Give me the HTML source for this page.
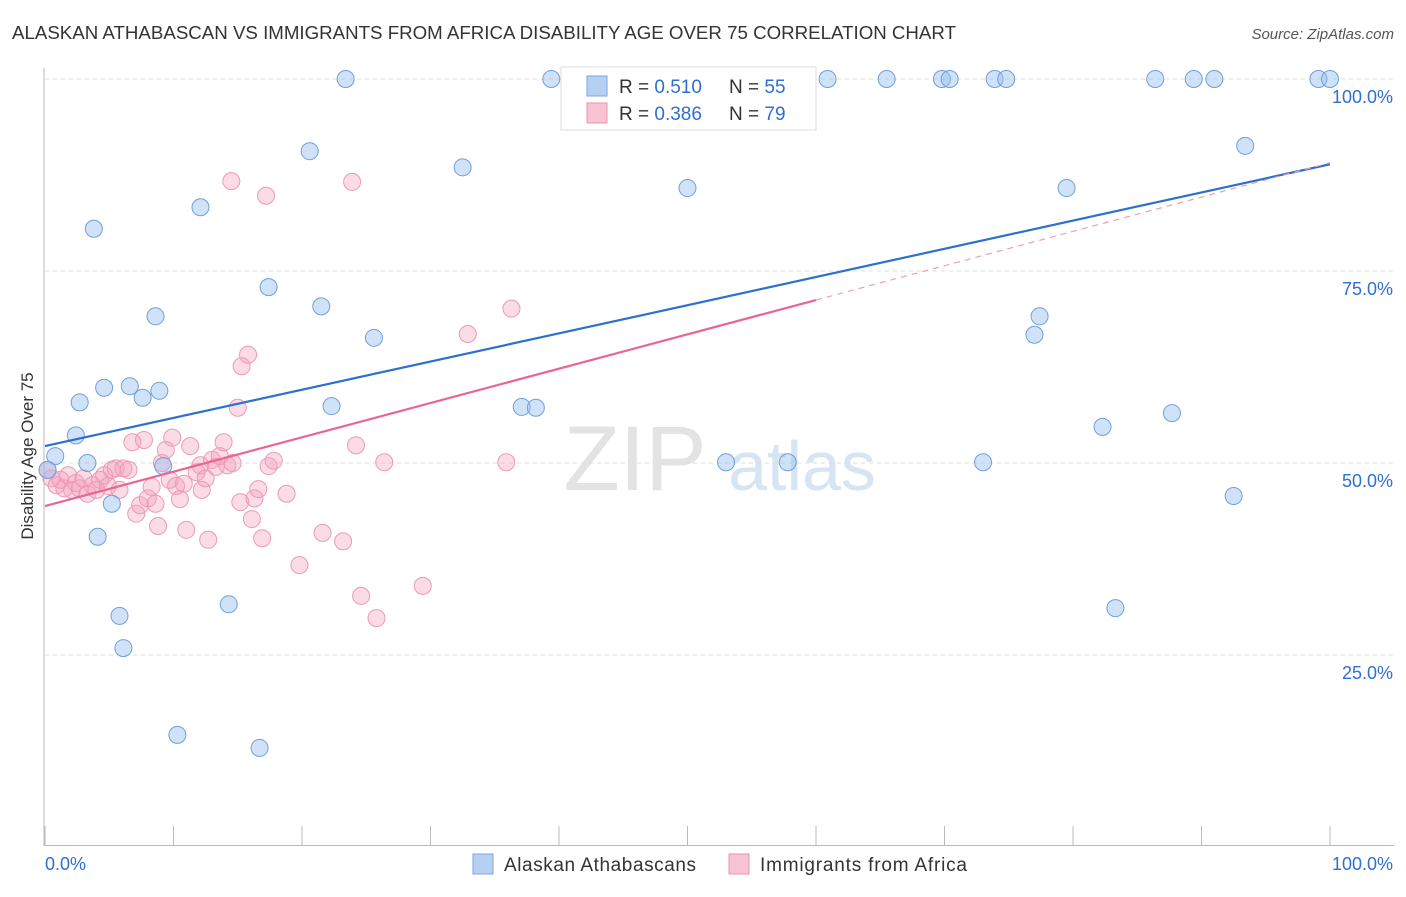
<!DOCTYPE html>
<html><head><meta charset="utf-8">
<style>
body{margin:0;background:#fff;font-family:"Liberation Sans",sans-serif;}
svg text{font-family:"Liberation Sans",sans-serif;}
</style></head>
<body>
<svg id="chart" width="1406" height="892" viewBox="0 0 1406 892">
<text x="12" y="39" font-size="18" fill="#333" textLength="944" lengthAdjust="spacingAndGlyphs">ALASKAN ATHABASCAN VS IMMIGRANTS FROM AFRICA DISABILITY AGE OVER 75 CORRELATION CHART</text>
<text x="1394" y="39" font-size="15" fill="#555" font-style="italic" text-anchor="end">Source: ZipAtlas.com</text>
<text transform="translate(33,456) rotate(-90)" font-size="17" fill="#333" text-anchor="middle">Disability Age Over 75</text>
<g>
<text x="635" y="490" font-size="92" fill="#e3e3e3" font-family="Liberation Serif,serif" text-anchor="middle">ZIP</text>
<text x="802" y="490" font-size="70" fill="#d6e4f4" text-anchor="middle">atlas</text>
</g>
<g id="grid"></g>
<g id="axes"></g>
<g id="marks"></g>
<g>
<rect x="561" y="67" width="255" height="63" fill="#fff" stroke="#ddd"/>
<rect x="587" y="76" width="20" height="20" fill="#b5d0f2" stroke="#7aa6de"/>
<text x="619" y="93" font-size="19" fill="#333">R = <tspan fill="#2e6fd0">0.510</tspan></text>
<text x="729" y="93" font-size="19" fill="#333">N = <tspan fill="#2e6fd0">55</tspan></text>
<rect x="587" y="103" width="20" height="20" fill="#f8c4d4" stroke="#e893b0"/>
<text x="619" y="120" font-size="19" fill="#333">R = <tspan fill="#2e6fd0">0.386</tspan></text>
<text x="729" y="120" font-size="19" fill="#333">N = <tspan fill="#2e6fd0">79</tspan></text>
</g>
<g>
<rect x="473" y="854" width="20" height="20" fill="#b5d0f2" stroke="#7aa6de"/>
<text x="504" y="871" font-size="19" fill="#333" textLength="192">Alaskan Athabascans</text>
<rect x="729" y="854" width="20" height="20" fill="#f8c4d4" stroke="#e893b0"/>
<text x="760" y="871" font-size="19" fill="#333" textLength="207">Immigrants from Africa</text>
</g>
</svg>
<script>
const blueX=[23.4,39.4,60.9,65.5,69.8,70.4,73.9,74.8,86.4,89.4,91.0,99.1,100,93.4,20.6,32.5,12.1,3.8,50.0,79.5,17.4,21.5,8.6,25.6,77.4,77.0,4.6,6.6,8.9,2.7,7.6,22.3,37.1,38.2,2.4,82.3,87.7,0.8,3.3,9.2,53.0,57.8,73.0,0.2,5.2,92.5,4.1,5.8,14.3,83.3,6.1,10.3,16.7];
const blueY=[100,100,100,100,100,100,100,100,100,100,100,100,100,91.3,90.6,88.5,83.3,80.5,85.8,85.8,72.9,70.4,69.1,66.3,69.1,66.7,59.8,60.0,59.4,57.9,58.5,57.4,57.3,57.2,53.6,54.7,56.5,50.9,50.0,49.6,50.1,50.1,50.1,49.1,44.7,45.7,40.4,30.1,31.6,31.1,25.9,14.6,12.9];
const pinkX=[0.2,0.5,0.9,1.2,1.5,1.8,2.1,2.4,2.7,3.0,3.3,3.7,4.0,4.3,4.6,4.9,5.2,5.5,5.8,6.1,6.5,6.8,7.1,7.4,7.7,8.0,8.3,8.6,8.8,9.1,9.4,9.7,9.9,10.2,10.5,10.8,11.0,11.3,11.8,12.1,12.2,12.5,12.7,13.0,13.3,13.6,13.9,14.2,14.5,14.6,15.0,15.2,15.3,15.8,16.1,16.3,16.6,16.9,17.2,17.4,17.8,18.8,19.8,21.6,23.2,23.9,24.2,24.6,25.8,26.4,29.4,32.9,35.9,36.3,54.6];
const pinkY=[49.1,48.0,47.1,47.8,46.7,48.4,46.5,47.4,46.7,48.0,46.0,47.1,46.5,47.8,48.4,47.0,49.1,49.3,46.5,49.3,49.1,52.7,43.4,44.5,53.0,45.4,46.9,44.7,41.8,50.0,51.7,47.8,53.3,47.0,45.3,47.3,41.3,52.2,48.8,49.7,46.5,48.0,40.0,50.4,49.5,50.9,52.7,49.7,86.7,50.0,57.2,44.9,62.6,64.1,42.7,45.4,46.6,40.2,84.8,49.6,50.3,46.0,36.7,40.9,39.8,86.6,52.3,32.7,29.8,50.1,34.0,66.8,50.1,70.1,100];
const blueFit=[52.2,0.367];
const pinkFit=[44.4,0.447];
const yTicks=[25,50,75,100];
const yTickLabels=["25.0%","50.0%","75.0%","100.0%"];
const xTicks=[0,10,20,30,40,50,60,70,80,90,100];

const NS="http://www.w3.org/2000/svg";
const sx=v=>45+v*12.85;
const sy=v=>847-v*7.68;
function mk(tag,attrs,parent){const e=document.createElementNS(NS,tag);for(const k in attrs)e.setAttribute(k,attrs[k]);parent.appendChild(e);return e;}
const grid=document.getElementById('grid'),axes=document.getElementById('axes'),marks=document.getElementById('marks');
yTicks.forEach((t,i)=>{
 const l=mk('line',{x1:45,x2:1394,y1:sy(t),y2:sy(t),stroke:'#ddd','stroke-dasharray':'4,4'},grid);
 
 
 const tx=mk('text',{x:1393,y:sy(t)+24,'font-size':18,fill:'#2e6fd0','text-anchor':'end'},axes);
 tx.textContent=yTickLabels[i];
 
 
});
let a=mk('line',{x1:44,x2:44,y1:68,y2:846,stroke:'#bbb'},axes);


a=mk('line',{x1:44,x2:1394,y1:845.5,y2:845.5,stroke:'#bbb'},axes);


xTicks.forEach(t=>{
 const l=mk('line',{x1:sx(t),x2:sx(t),y1:826,y2:846,stroke:'#bbb'},axes);
 
 
});
let t0=mk('text',{x:45,y:870,'font-size':18,fill:'#2e6fd0'},axes);t0.textContent='0.0%';


let t1=mk('text',{x:1393,y:870,'font-size':18,fill:'#2e6fd0','text-anchor':'end'},axes);t1.textContent='100.0%';



pinkX.forEach((x,i)=>{
 const c=mk('circle',{cx:sx(x),cy:sy(pinkY[i]),r:8.5,fill:'rgba(244,160,188,0.38)',stroke:'#ec9ab6','stroke-width':1},marks);
 
 
});
blueX.forEach((x,i)=>{
 const c=mk('circle',{cx:sx(x),cy:sy(blueY[i]),r:8.5,fill:'rgba(150,190,240,0.45)',stroke:'#6fa0dc','stroke-width':1},marks);
 
 
});
let ln=mk('line',{x1:sx(0),y1:sy(blueFit[0]),x2:sx(100),y2:sy(blueFit[0]+blueFit[1]*100),stroke:'#2e6fd0','stroke-width':2.2},marks);


ln=mk('line',{x1:sx(0),y1:sy(pinkFit[0]),x2:sx(60),y2:sy(pinkFit[0]+pinkFit[1]*60),stroke:'#e8668f','stroke-width':2.2},marks);


ln=mk('line',{x1:sx(60),y1:sy(pinkFit[0]+pinkFit[1]*60),x2:sx(100),y2:sy(pinkFit[0]+pinkFit[1]*100),stroke:'#e8a0b8','stroke-width':1.2,'stroke-dasharray':'6,5'},marks);


</script>
</body></html>
